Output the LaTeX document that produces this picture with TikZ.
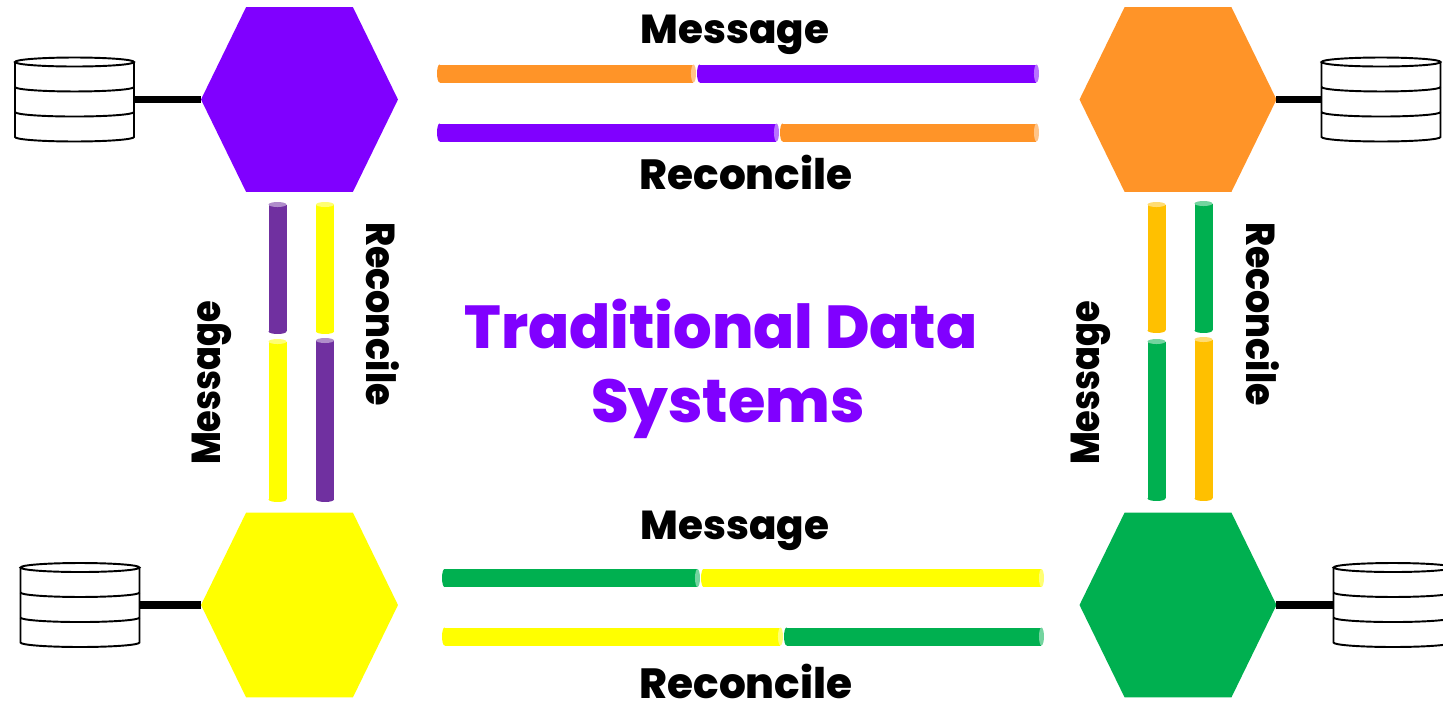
\documentclass[tikz,border=0pt]{standalone}
\usepackage{fontspec}
\setmainfont{Poppins}[BoldFont={Poppins ExtraBold}]
\usetikzlibrary{calc, positioning, shapes.symbols}
\definecolor{msgpurple}{HTML}{8000FF}
\definecolor{msgorange}{HTML}{FF9428}
\definecolor{msgyellow}{HTML}{FFFF00}
\definecolor{msggreen}{HTML}{00B050}
\definecolor{msgplum}{HTML}{7030A0}
\definecolor{msgamber}{HTML}{FFC000}
\newcommand{\dbbands}[1]{
	\draw[dbline] (#1.north west) -- (#1.south west) arc[start angle=180,end angle=360,x radius=1.19cm,y radius=0.09cm] -- (#1.north east);
	\draw[dbline] (#1.north) ellipse[x radius=1.19cm,y radius=0.09cm];
	\draw[dbline] ($(#1.north west)!0.333!(#1.south west)$) arc[start angle=180,end angle=360,x radius=1.19cm,y radius=0.09cm];
	\draw[dbline] ($(#1.north west)!0.667!(#1.south west)$) arc[start angle=180,end angle=360,x radius=1.19cm,y radius=0.09cm];
}
\newcommand{\hcaps}[2]{
	\fill[#2] (#1.west) ellipse[x radius=0.05cm,y radius=0.18cm];
	\fill[#2!55] (#1.east) ellipse[x radius=0.05cm,y radius=0.18cm];
}
\newcommand{\vcaps}[2]{
	\fill[#2] (#1.south) ellipse[x radius=0.18cm,y radius=0.05cm];
	\fill[#2!55] (#1.north) ellipse[x radius=0.18cm,y radius=0.05cm];
}
\begin{document}
\begin{tikzpicture}[x=0.02cm,y=-0.02cm,
	hexstyle/.style={
		signal,signal to=west and east,signal pointer angle=128,
		minimum width=3.94cm,minimum height=3.7cm,inner sep=0pt,outer sep=0pt
	},
	dbline/.style={black,line width=1.1pt},
	dbstyle/.style={
		rectangle,minimum width=2.38cm,minimum height=1.5cm,inner sep=0pt,outer sep=0pt
	},
	hbarstyle/.style={rectangle,fill=#1,minimum height=0.36cm,inner sep=0pt,outer sep=0pt},
	vbarstyle/.style={rectangle,fill=#1,minimum width=0.36cm,inner sep=0pt,outer sep=0pt},
	linkstyle/.style={black,line width=0.146cm},
	labelstyle/.style={font=\fontsize{23}{23}\selectfont\bfseries,inner sep=0pt},
	reconstyle/.style={font=\fontsize{24}{24}\selectfont\bfseries,inner sep=0pt},
	titlestyle/.style={font=\fontsize{34.5}{34.5}\selectfont\bfseries,text=msgpurple,inner sep=0pt}
]

	\useasboundingbox (0,0) rectangle (1443,700);

	\node[hexstyle,fill=msgpurple] at (299.5,99.5) (hexa) {};
	\node[hexstyle,fill=msgorange] at (1178,99.5) (hexb) {};
	\node[hexstyle,fill=msgyellow] at (299.5,605) (hexc) {};
	\node[hexstyle,fill=msggreen] at (1178,605) (hexd) {};

	\node[dbstyle] at (74.5,99.5) (dba) {};
	\node[dbstyle] at (1381,99.5) (dbb) {};
	\node[dbstyle] at (80,605) (dbc) {};
	\node[dbstyle] at (1393,605) (dbd) {};
	\foreach \db in {dba,dbb,dbc,dbd} {
		\dbbands{\db}
	}

	\draw[linkstyle] (dba.east) -- (hexa.west |- dba.east);
	\draw[linkstyle] (hexb.east |- dbb.west) -- (dbb.west);
	\draw[linkstyle] (dbc.east) -- (hexc.west |- dbc.east);
	\draw[linkstyle] (hexd.east |- dbd.west) -- (dbd.west);

	% top and bottom
	\node[hbarstyle=msgorange,minimum width=5.08cm] at (566.5,73.5) (ba) {};
	\node[hbarstyle=msgpurple,minimum width=6.74cm] at (868,73.5) (bb) {};
	\node[hbarstyle=msgpurple,minimum width=6.74cm] at (608,132.5) (bc) {};
	\node[hbarstyle=msgorange,minimum width=5.08cm] at (909.5,132.5) (bd) {};
	\node[hbarstyle=msggreen,minimum width=5.06cm] at (571,578) (be) {};
	\node[hbarstyle=msgyellow,minimum width=6.76cm] at (872.5,578) (bf) {};
	\node[hbarstyle=msgyellow,minimum width=6.72cm] at (612.5,636.5) (bg) {};
	\node[hbarstyle=msggreen,minimum width=5.1cm] at (914,636.5) (bh) {};
	\hcaps{ba}{msgorange}
	\hcaps{bb}{msgpurple}
	\hcaps{bc}{msgpurple}
	\hcaps{bd}{msgorange}
	\hcaps{be}{msggreen}
	\hcaps{bf}{msgyellow}
	\hcaps{bg}{msgyellow}
	\hcaps{bh}{msggreen}

	% left and right
	\node[vbarstyle=msgplum,minimum height=2.54cm] at (277.5,268) (va) {};
	\node[vbarstyle=msgyellow,minimum height=3.16cm] at (277.5,420.5) (vb) {};
	\node[vbarstyle=msgyellow,minimum height=2.54cm] at (325,268) (vc) {};
	\node[vbarstyle=msgplum,minimum height=3.18cm] at (325,420) (vd) {};
	\node[vbarstyle=msgamber,minimum height=2.52cm] at (1156.5,267.5) (ve) {};
	\node[vbarstyle=msggreen,minimum height=3.14cm] at (1156.5,420) (vf) {};
	\node[vbarstyle=msggreen,minimum height=2.54cm] at (1203.5,267) (vg) {};
	\node[vbarstyle=msgamber,minimum height=3.18cm] at (1203.5,419) (vh) {};
	\vcaps{va}{msgplum}
	\vcaps{vb}{msgyellow}
	\vcaps{vc}{msgyellow}
	\vcaps{vd}{msgplum}
	\vcaps{ve}{msgamber}
	\vcaps{vf}{msggreen}
	\vcaps{vg}{msggreen}
	\vcaps{vh}{msgamber}

	\node[labelstyle] at (735,35) (la) {Message};
	\node[reconstyle] at (746,172) (lb) {Reconcile};
	\node[labelstyle] at (735,531) (lc) {Message};
	\node[reconstyle] at (746,681) (ld) {Reconcile};
	\node[labelstyle,rotate=90,xscale=0.87,transform shape] at (212,383) (le) {Message};
	\node[labelstyle,rotate=270,xscale=0.9,transform shape] at (383,314) (lf) {Reconcile};
	\node[labelstyle,rotate=90,xscale=0.87,transform shape] at (1091,383) (lg) {Message};
	\node[labelstyle,rotate=270,xscale=0.9,transform shape] at (1263,314) (lh) {Reconcile};

	\node[titlestyle] at (721,324) (ta) {Traditional Data};
	\node[titlestyle] at (728,409) (tb) {Systems};
\end{tikzpicture}
\end{document}
